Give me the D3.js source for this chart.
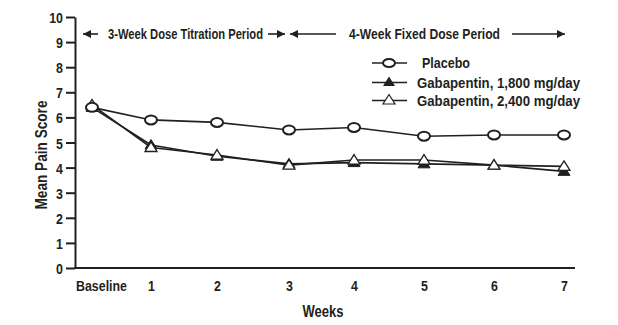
<!DOCTYPE html>
<html><head><meta charset="utf-8">
<script src="https://cdn.jsdelivr.net/npm/d3@7/dist/d3.min.js"></script>
<style>
html,body{margin:0;padding:0;background:#fff;}
svg text{font-family:"Liberation Sans",Arial,sans-serif;font-weight:bold;fill:#231f20;}
</style></head>
<body><svg id="c" width="618" height="325"></svg>
<script>
const weeks = ["Baseline","1","2","3","4","5","6","7"];
const placebo  = [6.4, 5.9, 5.8, 5.5, 5.6, 5.25, 5.3, 5.3];
const gaba1800 = [6.4, 4.9, 4.45, 4.15, 4.2, 4.15, 4.1, 3.85];
const gaba2400 = [6.5, 4.8, 4.5, 4.1, 4.3, 4.3, 4.1, 4.05];
const yTicks = [0,1,2,3,4,5,6,7,8,9,10];
const seriesNames = ["Placebo","Gabapentin, 1,800 mg/day","Gabapentin, 2,400 mg/day"];
const periodLabels = ["3-Week Dose Titration Period","4-Week Fixed Dose Period"];

const svg = d3.select("#c");
const ink = "#231f20";
const x = d3.scaleLinear().domain([0,1,2,3,4,7]).range([92,151,217,289,354,564]);
const y = d3.scaleLinear().domain([0,10]).range([268,17]);
const axLeft = 75, axRight = 575;

// condense text horizontally (narrow font look)
function condense(sel, f){
  sel.each(function(){
    const L = this.getComputedTextLength();
    if(L>0) d3.select(this).attr("textLength", L*f).attr("lengthAdjust","spacingAndGlyphs");
  });
}
function fitWidth(sel, w){
  sel.attr("textLength", w).attr("lengthAdjust","spacingAndGlyphs");
}

// Y axis
const ya = svg.append("g").attr("transform",`translate(${axLeft},0)`)
  .call(d3.axisLeft(y).tickValues(yTicks).tickSize(9).tickPadding(3).tickSizeOuter(0));
ya.attr("font-family",null).attr("font-size",null);
ya.select(".domain").attr("stroke",ink).attr("stroke-width",2);
ya.selectAll(".tick line").attr("stroke",ink).attr("stroke-width",2);
ya.selectAll(".tick text").attr("font-size",15.5).attr("fill",ink).attr("dy","0.36em");
condense(ya.selectAll(".tick text"), 0.8);

// X axis
svg.append("line").attr("x1",axLeft-1).attr("x2",axRight).attr("y1",y(0)).attr("y2",y(0))
  .attr("stroke",ink).attr("stroke-width",2);
const xa = svg.append("g").attr("transform",`translate(0,${y(0)})`)
  .call(d3.axisBottom(x).tickValues(d3.range(weeks.length)).tickFormat(i=>weeks[i]).tickSize(0).tickPadding(12));
xa.attr("font-family",null).attr("font-size",null);
xa.select(".domain").remove();
xa.selectAll(".tick text").attr("font-size",15.5).attr("fill",ink)
  .attr("dx",(d)=>d===0?9:0);
condense(xa.selectAll(".tick text"), 0.8);

// axis titles
fitWidth(svg.append("text").attr("x",323).attr("y",317).attr("text-anchor","middle").attr("font-size",16).text("Weeks"), 41);
fitWidth(svg.append("text").attr("transform","translate(47,155) rotate(-90)").attr("text-anchor","middle").attr("font-size",16).text("Mean Pain Score"), 109);

// lines
const line = d3.line().x((d,i)=>x(i)).y(d=>y(d));
[gaba1800, gaba2400, placebo].forEach(s=>{
  svg.append("path").datum(s).attr("d",line).attr("fill","none").attr("stroke",ink).attr("stroke-width",1.6);
});

// markers
const tri = (cx,cy)=>`M${cx},${cy-5.5}L${cx+6},${cy+4}L${cx-6},${cy+4}Z`;
svg.append("g").selectAll("path").data(gaba1800).join("path")
  .attr("d",(d,i)=>tri(x(i),y(d))).attr("fill",ink).attr("stroke",ink).attr("stroke-width",1);
svg.append("g").selectAll("path").data(gaba2400).join("path")
  .attr("d",(d,i)=>tri(x(i),y(d))).attr("fill","#fff").attr("stroke",ink).attr("stroke-width",1.3);
svg.append("g").selectAll("ellipse").data(placebo).join("ellipse")
  .attr("cx",(d,i)=>x(i)).attr("cy",d=>y(d)).attr("rx",6).attr("ry",4.5)
  .attr("fill","#fff").attr("stroke",ink).attr("stroke-width",2);

// legend
const lg = svg.append("g");
const rows = [63,82.5,100.5];
const legW = [48,163,163];
rows.forEach((ry,k)=>{
  lg.append("line").attr("x1",372).attr("x2",407).attr("y1",ry).attr("y2",ry).attr("stroke",ink).attr("stroke-width",1.6);
  if(k===0) lg.append("ellipse").attr("cx",389).attr("cy",ry).attr("rx",6).attr("ry",4).attr("fill","#fff").attr("stroke",ink).attr("stroke-width",2);
  if(k===1) lg.append("path").attr("d",tri(389,ry-0.5)).attr("fill",ink);
  if(k===2) lg.append("path").attr("d",tri(389,ry-0.5)).attr("fill","#fff").attr("stroke",ink).attr("stroke-width",1.2);
  fitWidth(lg.append("text").attr("x",k===0?422:417).attr("y",ry+5).attr("font-size",14.5).text(seriesNames[k]), legW[k]);
});

// period header
const hy = 34;
svg.append("defs").append("marker").attr("id","ah").attr("viewBox","0 0 10 10").attr("refX",10).attr("refY",5)
  .attr("markerWidth",8).attr("markerHeight",8).attr("orient","auto-start-reverse").attr("markerUnits","userSpaceOnUse")
  .append("path").attr("d","M0,0L10,5L0,10Z").attr("fill",ink);
const arrow = (x1,x2,start,end)=>{
  const l = svg.append("line").attr("x1",x1).attr("x2",x2).attr("y1",hy).attr("y2",hy).attr("stroke",ink).attr("stroke-width",1.6);
  if(start) l.attr("marker-start","url(#ah)");
  if(end) l.attr("marker-end","url(#ah)");
};
arrow(83,98,true,false);
arrow(268,285,false,true);
arrow(290,336,true,false);
arrow(512,565,false,true);
fitWidth(svg.append("text").attr("x",108).attr("y",hy+5).attr("font-size",14.5).text(periodLabels[0]), 155);
fitWidth(svg.append("text").attr("x",349).attr("y",hy+5).attr("font-size",14.5).text(periodLabels[1]), 151);
</script></body></html>
